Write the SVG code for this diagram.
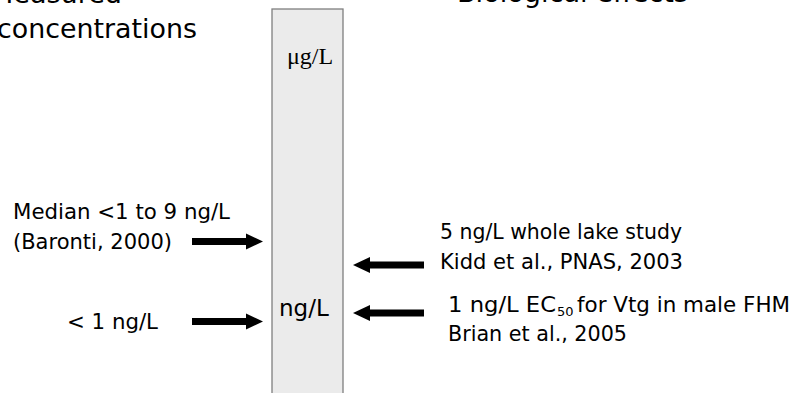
<svg xmlns="http://www.w3.org/2000/svg" width="793" height="393" viewBox="0 0 793 393">
  <style>
    .sans { font-family: "DejaVu Sans", Verdana, sans-serif; fill: #000; }
    .title { font-size: 27px; }
    .label { font-size: 21px; }
    .unit { font-size: 23px; }
    .serif { font-family: "Liberation Serif", "Times New Roman", serif; font-size: 24px; fill: #000; }
    .scale { fill: #ebebeb; stroke: #7f7f7f; stroke-width: 1.3; }
    .arrow { fill: #000; }
  </style>
  <defs>
    <!-- block arrow pointing right, tip at origin -->
    <path id="arrow-r" d="M-71,-3.4 L-17,-3.4 L-17,-8 L0,0 L-17,8 L-17,3.4 L-71,3.4 Z"/>
  </defs>
  <rect width="793" height="393" fill="#fff"/>

  <!-- column headings -->
  <g id="heading-measured">
    <text class="sans title" x="-10" y="3">Measured</text>
    <text class="sans title" x="-3" y="38" textLength="200" lengthAdjust="spacingAndGlyphs">concentrations</text>
  </g>
  <g id="heading-effects">
    <text class="sans title" x="457" y="2" textLength="231" lengthAdjust="spacingAndGlyphs">Biological effects</text>
  </g>

  <!-- concentration scale bar -->
  <g id="scale-bar">
    <rect class="scale" x="272" y="9" width="71" height="400"/>
    <text class="serif" x="287" y="64">μg/L</text>
    <text class="sans unit" x="279" y="316">ng/L</text>
  </g>

  <!-- measured concentrations (left) -->
  <g id="measured-median">
    <text class="sans label" x="13" y="219" textLength="217" lengthAdjust="spacingAndGlyphs">Median &lt;1 to 9 ng/L</text>
    <text class="sans label" x="13" y="249" textLength="159" lengthAdjust="spacingAndGlyphs">(Baronti, 2000)</text>
  </g>
  <g id="measured-low">
    <text class="sans label" x="67" y="329" textLength="91" lengthAdjust="spacingAndGlyphs">&lt; 1 ng/L</text>
  </g>

  <!-- biological effects (right) -->
  <g id="effect-lake">
    <text class="sans label" x="440" y="239" textLength="242" lengthAdjust="spacingAndGlyphs">5 ng/L whole lake study</text>
    <text class="sans label" x="440" y="269" textLength="243" lengthAdjust="spacingAndGlyphs">Kidd et al., PNAS, 2003</text>
  </g>
  <g id="effect-vtg">
    <text class="sans label" x="448" y="312" textLength="108" lengthAdjust="spacingAndGlyphs">1 ng/L EC</text>
    <text class="sans" x="557" y="316" font-size="13">50</text>
    <text class="sans label" x="577" y="312" textLength="213" lengthAdjust="spacingAndGlyphs">for Vtg in male FHM</text>
    <text class="sans label" x="448" y="341" textLength="179" lengthAdjust="spacingAndGlyphs">Brian et al., 2005</text>
  </g>

  <!-- arrows pointing at the scale -->
  <g id="connectors">
    <use class="arrow" href="#arrow-r" transform="translate(263,241.5)"/>
    <use class="arrow" href="#arrow-r" transform="translate(263,321.5)"/>
    <use class="arrow" href="#arrow-r" transform="translate(353,265) rotate(180)"/>
    <use class="arrow" href="#arrow-r" transform="translate(353,313) rotate(180)"/>
  </g>
</svg>
